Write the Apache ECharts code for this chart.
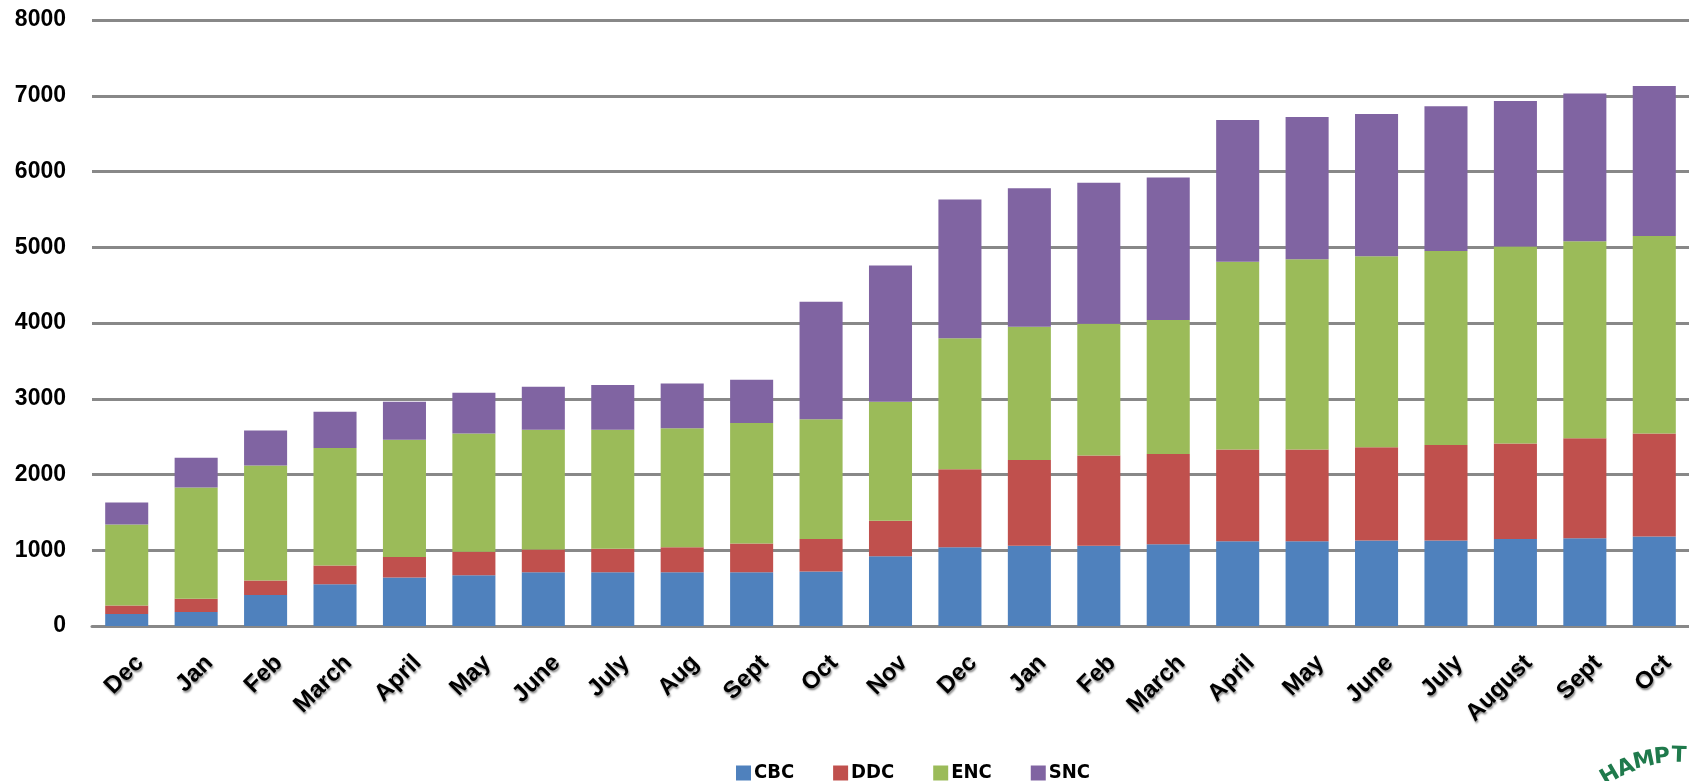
<!DOCTYPE html>
<html>
<head>
<meta charset="utf-8">
<script src="https://cdn.jsdelivr.net/npm/echarts@6/dist/echarts.min.js"></script>
<style>
  html, body { margin: 0; padding: 0; background: #fff; }
  #chart { width: 1689px; height: 781px; }
</style>
</head>
<body>
<div id="chart"></div>
<script>
const months = ['Dec', 'Jan', 'Feb', 'March', 'April', 'May', 'June', 'July', 'Aug', 'Sept', 'Oct', 'Nov',
  'Dec', 'Jan', 'Feb', 'March', 'April', 'May', 'June', 'July', 'August', 'Sept', 'Oct'];

const cbc = [160, 185, 410, 550, 640, 670, 710, 710, 710, 710, 720, 920, 1040, 1060, 1060, 1080, 1120, 1120, 1130, 1130, 1150, 1160, 1180];
const ddc = [110, 175, 190, 250, 270, 310, 300, 310, 330, 380, 430, 470, 1030, 1130, 1190, 1190, 1210, 1210, 1230, 1260, 1260, 1320, 1360];
const enc = [1070, 1470, 1520, 1550, 1550, 1560, 1580, 1570, 1570, 1590, 1580, 1570, 1730, 1760, 1740, 1770, 2480, 2510, 2520, 2560, 2600, 2600, 2610];
const snc = [290, 390, 460, 480, 500, 540, 570, 590, 590, 570, 1550, 1800, 1830, 1830, 1860, 1880, 1870, 1880, 1880, 1910, 1920, 1950, 1980];

const seriesNames = ['CBC', 'DDC', 'ENC', 'SNC'];
const seriesColors = ['#4f81bd', '#c0504d', '#9bbb59', '#8064a2'];
const yTicks = { min: 0, max: 8000, interval: 1000 };

const chart = echarts.init(document.getElementById('chart'));

const mkBar = (name, data, i) => ({
  name: name,
  type: 'bar',
  stack: 'total',
  barWidth: '62%',
  itemStyle: { color: seriesColors[i] },
  data: data,
  animation: false,
});

// logo fragment at the bottom right corner (cut by the image edge)
const logoLetters = [
  { t: 'H', x: 1610, y: 776, r: 30 },
  { t: 'A', x: 1626, y: 768, r: 22 },
  { t: 'M', x: 1644, y: 761, r: 12 },
  { t: 'P', x: 1662, y: 757, r: 5 },
  { t: 'T', x: 1679, y: 756, r: -2 },
];

chart.setOption({
  animation: false,
  grid: {
    left: 92,
    right: -6,
    top: 20,
    bottom: 155,
  },
  legend: {
    left: 731,
    top: 758,
    itemWidth: 15,
    itemHeight: 15,
    itemGap: 39,
    icon: 'rect',
    textStyle: {
      fontFamily: '"DejaVu Sans Condensed", "Liberation Sans", sans-serif',
      fontWeight: 'bold',
      fontSize: 20,
      color: '#000',
      padding: [0, 0, 0, -2],
    },
    data: seriesNames,
  },
  xAxis: {
    type: 'category',
    data: months,
    axisLine: { lineStyle: { color: '#888', width: 3 } },
    axisTick: { show: false },
    axisLabel: {
      rotate: 45,
      margin: 20,
      interval: 0,
      // top-aligned with a tall line box pushes the rotated text down-right
      verticalAlign: 'top',
      lineHeight: 37,
      color: '#000',
      fontFamily: '"Liberation Sans", sans-serif',
      fontWeight: 'bold',
      fontSize: 24,
      textShadowColor: 'rgba(0,0,0,0.45)',
      textShadowBlur: 2,
      textShadowOffsetX: 1,
      textShadowOffsetY: 2,
    },
  },
  yAxis: {
    type: 'value',
    min: yTicks.min,
    max: yTicks.max,
    interval: yTicks.interval,
    axisLine: { show: false },
    axisTick: { show: false },
    axisLabel: {
      margin: 26,
      color: '#000',
      fontFamily: '"Liberation Sans", sans-serif',
      fontWeight: 'bold',
      fontSize: 23,
      formatter: (v) => String(v),
    },
    splitLine: { lineStyle: { color: '#888', width: 3 } },
  },
  graphic: logoLetters.map((l) => ({
    type: 'text',
    x: l.x,
    y: l.y,
    rotation: (l.r * Math.PI) / 180,
    style: {
      text: l.t,
      fill: '#1f7a4c',
      font: 'bold 22px "DejaVu Sans", sans-serif',
      align: 'center',
      verticalAlign: 'middle',
    },
  })),
  series: [
    mkBar('CBC', cbc, 0),
    mkBar('DDC', ddc, 1),
    mkBar('ENC', enc, 2),
    mkBar('SNC', snc, 3),
  ],
});

window.addEventListener('resize', function () {
  chart.resize();
});
</script>
</body>
</html>
